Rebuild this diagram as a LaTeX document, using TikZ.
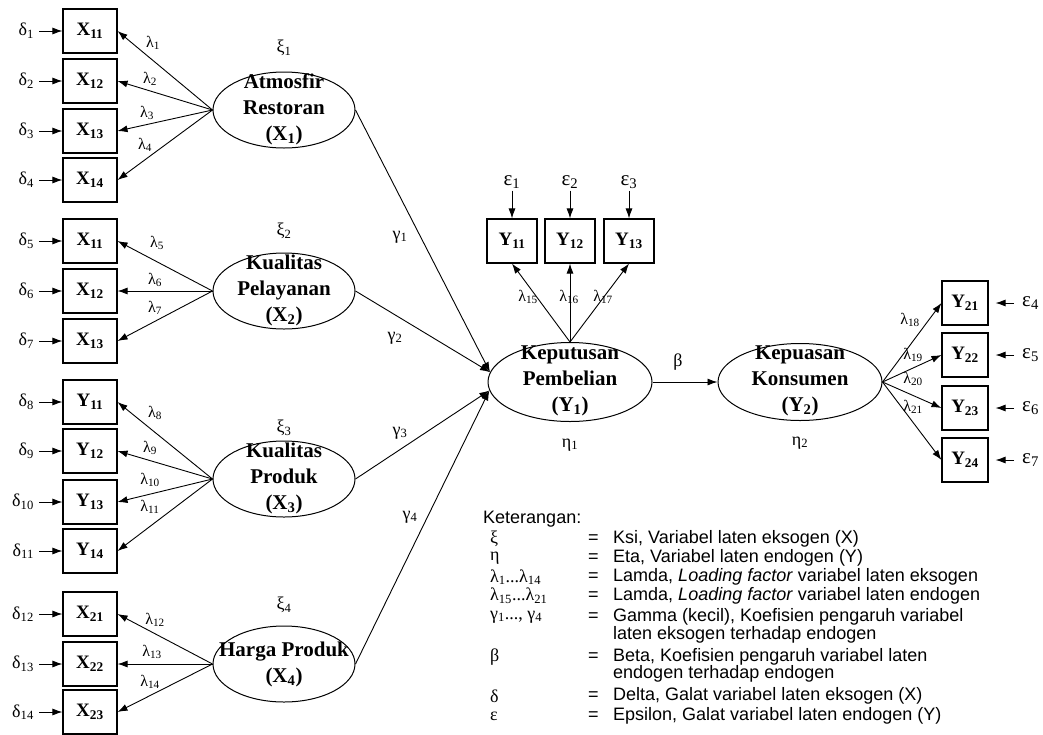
\documentclass[tikz,border=0pt]{standalone}
\usepackage{fontspec}
\setmainfont{Liberation Serif}
\setsansfont{Liberation Sans}
\usetikzlibrary{shapes.geometric,arrows.meta}

\begin{document}
\begin{tikzpicture}[x=1pt, y=-1pt,
    obs/.style={draw, line width=1.1pt, minimum width=54pt, minimum height=44pt,
        inner sep=0pt, font=\fontsize{19}{20}\selectfont\bfseries},
    latent/.style={ellipse, draw, line width=1pt, minimum width=142pt,
        minimum height=76pt, inner sep=0pt},
    lattext/.style={align=center, inner sep=0pt, font=\fontsize{21}{26}\selectfont\bfseries},
    err/.style={font=\fontsize{18}{18}\selectfont, inner sep=2pt},
    eps/.style={font=\fontsize{21}{21}\selectfont, inner sep=2pt},
    lam/.style={font=\fontsize{16}{16}\selectfont, inner sep=0pt},
    arr/.style={-{Latex[length=10pt,width=7pt]}, line width=0.9pt},
    legsym/.style={font=\fontsize{18}{18}\selectfont, anchor=west, inner sep=0pt},
    legtext/.style={font=\sffamily\fontsize{18}{19}\selectfont, anchor=west, inner sep=0pt}
]
    \useasboundingbox (0,0) rectangle (1043,734);

    % exogenous latent variables
    \node[latent] (x1) at (284,110) {};
    \node[lattext] (x1t) at (284,109) {Atmosfir\\Restoran\\(X\textsubscript{1})};
    \node[latent] (x2) at (284,291) {};
    \node[lattext] (x2t) at (284,290) {Kualitas\\Pelayanan\\(X\textsubscript{2})};
    \node[latent] (x3) at (284,479) {};
    \node[lattext] (x3t) at (284,478) {Kualitas\\Produk\\(X\textsubscript{3})};
    \node[latent] (x4) at (284,664) {};
    \node[lattext] (x4t) at (284,664) {Harga Produk\\(X\textsubscript{4})};

    \node[err] (k1) at (284,48) {ξ\textsubscript{1}};
    \node[err] (k2) at (284,231) {ξ\textsubscript{2}};
    \node[err] (k3) at (284,428) {ξ\textsubscript{3}};
    \node[err] (k4) at (284,605) {ξ\textsubscript{4}};

    % indicators with their errors
    \foreach \n/\v/\s/\yy [count=\i] in {a1/X/11/31, a2/X/12/81, a3/X/13/131, a4/X/14/180,
            a5/X/11/241, a6/X/12/291, a7/X/13/341,
            a8/Y/11/402, a9/Y/12/451, a10/Y/13/502, a11/Y/14/551,
            a12/X/21/614, a13/X/22/664, a14/X/23/712} {
        \node[obs] (\n) at (90,\yy) {\v\textsubscript{\s}};
        \node[err, anchor=east] (d\i) at (36,\yy) {δ\textsubscript{\i}};
        \draw[arr, shorten <=3pt] (d\i) -- (\n);
    }

    % loadings
    \foreach \i/\src/\lx/\ly in {1/x1/153/43, 2/x1/150/79, 3/x1/147/113, 4/x1/145/145,
            5/x2/157/243, 6/x2/155/280, 7/x2/155/308,
            8/x3/155/413, 9/x3/150/448, 10/x3/150/480, 11/x3/150/507,
            12/x4/155/620, 13/x4/152/652, 14/x4/150/682} {
        \draw[arr] (\src.west) -- (a\i.east);
        \node[lam] (l\i) at (\lx,\ly) {λ\textsubscript{\i}};
    }

    % endogenous latent variables
    \node[latent, minimum width=164pt, minimum height=79pt] (y1) at (570,382) {};
    \node[lattext] (y1t) at (570,381) {Keputusan\\Pembelian\\(Y\textsubscript{1})};
    \node[err] (h1) at (570,445) {η\textsubscript{1}};
    \node[latent, minimum width=164pt, minimum height=77pt] (y2) at (800,382) {};
    \node[lattext] (y2t) at (800,381) {Kepuasan\\Konsumen\\(Y\textsubscript{2})};
    \node[err] (h2) at (800,443) {η\textsubscript{2}};

    \foreach \n/\s/\xx [count=\i] in {b1/11/512, b2/12/570, b3/13/629} {
        \node[obs, minimum width=50pt] (\n) at (\xx,241) {Y\textsubscript{\s}};
        \node[eps] (e\i) at (\xx,182) {ε\textsubscript{\i}};
        \draw[arr] (e\i) -- (\n);
        \draw[arr] (y1.north) -- (\n.south);
    }
    \node[lam] (l15) at (528,297) {λ\textsubscript{15}};
    \node[lam] (l16) at (569,297) {λ\textsubscript{16}};
    \node[lam] (l17) at (603,297) {λ\textsubscript{17}};

    \foreach \n/\s/\yy [count=\i from 4] in {c1/21/303, c2/22/355, c3/23/408, c4/24/460} {
        \node[obs, minimum width=46pt] (\n) at (965,\yy) {Y\textsubscript{\s}};
        \node[eps, anchor=west] (e\i) at (1020,\yy) {ε\textsubscript{\i}};
        \draw[arr, shorten <=6pt, shorten >=7pt] (e\i) -- (\n);
        \draw[arr] (y2.east) -- (\n.west);
    }
    \node[lam] (l18) at (910,320) {λ\textsubscript{18}};
    \node[lam] (l19) at (913,355) {λ\textsubscript{19}};
    \node[lam] (l20) at (913,379) {λ\textsubscript{20}};
    \node[lam] (l21) at (913,407) {λ\textsubscript{21}};

    % structural paths
    \draw[arr] (x1.east) -- (y1.173);
    \draw[arr] (x2.east) -- (y1.173);
    \draw[arr] (x3.east) -- (y1.186);
    \draw[arr] (x4.east) -- (y1.186);
    \node[err] (g1) at (400,237) {γ\textsubscript{1}};
    \node[err] (g2) at (395,338) {γ\textsubscript{2}};
    \node[err] (g3) at (400,433) {γ\textsubscript{3}};
    \node[err] (g4) at (410,517) {γ\textsubscript{4}};

    \draw[arr] (y1.east) -- (y2.west);
    \node[err] (b) at (678,362) {β};

    % legend
    \node[legtext] (ket) at (483,519) {Keterangan:};
    \foreach \yy/\sym/\txt [count=\i] in {539/ξ/{Ksi, Variabel laten eksogen (X)},
            558/η/{Eta, Variabel laten endogen (Y)},
            577/{λ\textsubscript{1}...λ\textsubscript{14}}/{Lamda, \textit{Loading factor} variabel laten eksogen},
            596/{λ\textsubscript{15}...λ\textsubscript{21}}/{Lamda, \textit{Loading factor} variabel laten endogen},
            617/{γ\textsubscript{1}..., γ\textsubscript{4}}/{Gamma (kecil), Koefisien pengaruh variabel},
            657/β/{Beta, Koefisien pengaruh variabel laten},
            696/δ/{Delta, Galat variabel laten eksogen (X)},
            716/ε/{Epsilon, Galat variabel laten endogen (Y)}} {
        \node[legsym] (s\i) at (490,\yy) {\sym};
        \node[legtext] (q\i) at (588,\yy) {=};
        \node[legtext] (t\i) at (613,\yy) {\txt};
    }
    \node[legtext] (t5b) at (613,635) {laten eksogen terhadap endogen};
    \node[legtext] (t6b) at (613,674) {endogen terhadap endogen};
\end{tikzpicture}
\end{document}
